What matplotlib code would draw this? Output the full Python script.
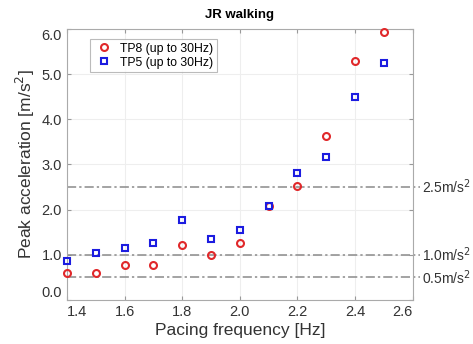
import numpy as np
import matplotlib.pyplot as plt

plt.rcParams['font.family'] = ['Liberation Sans', 'DejaVu Sans']

freq = [1.4, 1.5, 1.6, 1.7, 1.8, 1.9, 2.0, 2.1, 2.2, 2.3, 2.4, 2.5]
tp8 = [0.60, 0.60, 0.77, 0.78, 1.21, 1.00, 1.26, 2.09, 2.52, 3.63, 5.29, 5.94]
tp5 = [0.86, 1.05, 1.14, 1.25, 1.78, 1.36, 1.54, 2.09, 2.80, 3.16, 4.50, 5.24]
limits = [2.5, 1.0, 0.5]
limit_labels = ['2.5m/s$^2$', '1.0m/s$^2$', '0.5m/s$^2$']
xticks = [1.4, 1.6, 1.8, 2.0, 2.2, 2.4, 2.6]
yticks = [0, 1, 2, 3, 4, 5, 6]

fig = plt.figure(figsize=(4.73, 3.44), dpi=100)
ax = fig.add_axes([0.1416, 0.128, 0.731, 0.788])

ax.plot(freq, tp8, 'o', mfc='none', mec='#e0282a', mew=1.5, ms=5,
        label='TP8 (up to 30Hz)', clip_on=False, zorder=3)
ax.plot(freq, tp5, 's', mfc='none', mec='#1c1ce0', mew=1.5, ms=4.2,
        label='TP5 (up to 30Hz)', clip_on=False, zorder=3)

for lv, lb in zip(limits, limit_labels):
    ax.plot([1.4, 2.625], [lv, lv], color='#8a8a8a', ls=(0, (6, 2, 1.5, 2)),
            lw=1.1, clip_on=False, zorder=2)
    ax.text(2.632, lv, lb, fontsize=10, va='center', ha='left', color='#333333')

ax.set_xlim(1.4, 2.6)
ax.set_ylim(0, 6)
ax.set_xticks(xticks)
ax.set_xticklabels(['%.1f' % v for v in xticks])
ax.set_yticks(yticks)
ax.set_yticklabels(['%.1f' % v for v in yticks])
xl = ax.get_xticklabels()
xl[0].set_ha('left')
xl[-1].set_ha('right')
yl = ax.get_yticklabels()
yl[0].set_va('bottom')
yl[-1].set_va('top')

ax.tick_params(labelsize=10.5, direction='in', length=3, color='#999999',
               top=True, right=True, labelcolor='#333333')
ax.grid(True, color='#eeeeee', lw=0.8)
for s in ax.spines.values():
    s.set_color('#aaaaaa')

ax.set_xlabel('Pacing frequency [Hz]', fontsize=12.5, color='#333333', labelpad=3)
ax.set_ylabel('Peak acceleration [m/s$^2$]', fontsize=12.5, color='#333333', labelpad=3)
ax.set_title('JR walking', fontsize=9.5, fontweight='bold', pad=8)

leg = ax.legend(loc='upper left', fontsize=8.8, frameon=True, fancybox=False,
                edgecolor='#aaaaaa', borderpad=0.3, handletextpad=0.5,
                handlelength=1.6, bbox_to_anchor=(0.05, 0.985), labelspacing=0.15)
leg.get_frame().set_linewidth(0.8)

fig.savefig('out.png', dpi=100)
